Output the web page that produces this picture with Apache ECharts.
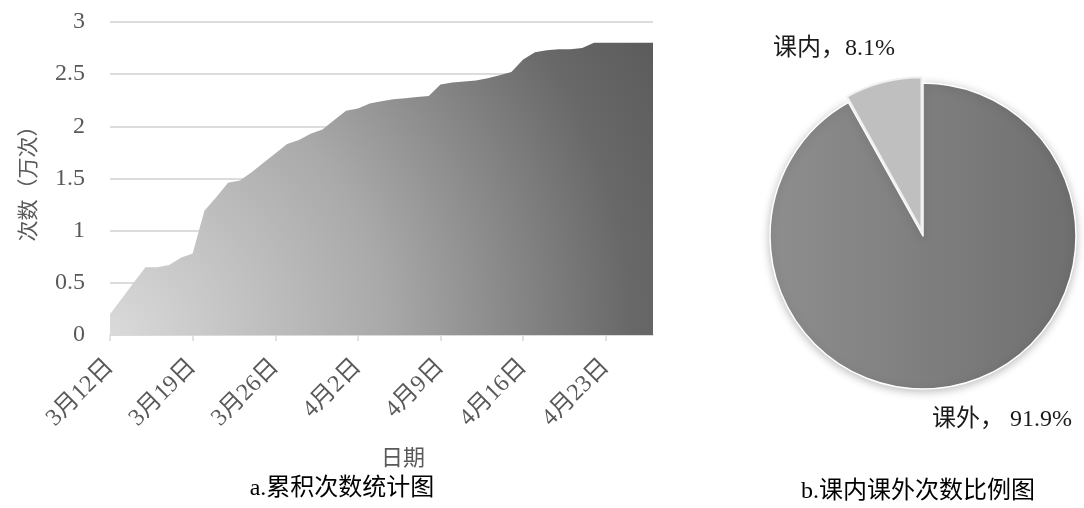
<!DOCTYPE html>
<html><head><meta charset="utf-8">
<script src="https://cdn.jsdelivr.net/npm/echarts@6/dist/echarts.min.js"></script>
<style>html,body{margin:0;padding:0;background:#fff}#c{width:1084px;height:508px}</style>
</head><body><div id="c"></div>
<script>
const dates = ['3月12日','3月13日','3月14日','3月15日','3月16日','3月17日','3月18日','3月19日','3月20日','3月21日',
  '3月22日','3月23日','3月24日','3月25日','3月26日','3月27日','3月28日','3月29日','3月30日','3月31日',
  '4月1日','4月2日','4月3日','4月4日','4月5日','4月6日','4月7日','4月8日','4月9日','4月10日',
  '4月11日','4月12日','4月13日','4月14日','4月15日','4月16日','4月17日','4月18日','4月19日','4月20日',
  '4月21日','4月22日','4月23日','4月24日','4月25日','4月26日','4月27日'];
const cumulative = [0.20,0.35,0.50,0.65,0.65,0.67,0.74,0.78,1.19,1.32,
  1.46,1.48,1.56,1.65,1.74,1.83,1.87,1.93,1.97,2.06,
  2.15,2.17,2.22,2.24,2.26,2.27,2.28,2.29,2.40,2.42,
  2.43,2.44,2.46,2.49,2.52,2.64,2.71,2.73,2.74,2.74,
  2.75,2.80,2.80,2.80,2.80,2.80,2.80];
const pieNames = ['课外','课内'];
const pieValues = [91.9, 8.1];
const yAxisName = '次数（万次）';
const xAxisName = '日期';
const titleA = 'a.累积次数统计图';
const titleB = 'b.课内课外次数比例图';

const serif = '"Liberation Serif","Times New Roman","Noto Sans CJK SC",serif';
const sans = '"Noto Sans CJK SC",sans-serif';
const chart = echarts.init(document.getElementById('c'));
chart.setOption({
  animation: false,
  backgroundColor: '#fff',
  grid: {left: 110, right: 431, top: 22, bottom: 173, containLabel: false},
  xAxis: {
    type: 'category', data: dates, boundaryGap: false,
    axisLine: {lineStyle: {color: '#d9d9d9', width: 1.5}},
    axisTick: {interval: 6, length: 6, lineStyle: {color: '#d9d9d9', width: 1.5}},
    axisLabel: {interval: 6, rotate: 45, margin: 28, fontFamily: serif, fontSize: 24, color: '#595959'}
  },
  yAxis: {
    type: 'value', min: 0, max: 3, interval: 0.5,
    name: yAxisName, nameLocation: 'middle', nameGap: 72,
    nameTextStyle: {fontFamily: sans, fontSize: 21, color: '#595959'},
    axisLine: {show: false}, axisTick: {show: false},
    axisLabel: {margin: 25, fontFamily: serif, fontSize: 24, color: '#595959'},
    splitLine: {lineStyle: {color: '#d0d0d0', width: 1.5}}
  },
  series: [{
    type: 'line', data: cumulative, showSymbol: false, symbol: 'none',
    lineStyle: {width: 0},
    areaStyle: {
      opacity: 1,
      color: new echarts.graphic.RadialGradient(0, 1, 2.1, [
        {offset: 0, color: '#dadada'},
        {offset: 0.45, color: '#a9a9a9'},
        {offset: 0.85, color: '#686868'},
        {offset: 1, color: '#5c5c5c'}
      ])
    }
  }, {
    type: 'pie', center: [923, 236], radius: 153,
    startAngle: 90, clockwise: true,
    selectedMode: 'single', selectedOffset: 6,
    data: pieNames.map((n, i) => ({
      name: n, value: pieValues[i], selected: i === 1,
      itemStyle: i === 0 ? {
        color: new echarts.graphic.LinearGradient(0, 0, 1, 0, [
          {offset: 0, color: '#8e8e8e'}, {offset: 1, color: '#6f6f6f'}
        ]),
        borderColor: '#fff', borderWidth: 1.5,
        shadowBlur: 8, shadowColor: 'rgba(0,0,0,0.25)', shadowOffsetY: 2
      } : {color: '#bfbfbf', borderColor: '#f0f0f0', borderWidth: 2}
    })),
    select: {itemStyle: {color: '#bfbfbf'}},
    emphasis: {disabled: true},
    label: {show: false},
    labelLine: {show: false}
  }],
  graphic: [
    {type: 'text', x: 403, y: 457, style: {text: xAxisName, font: '22px ' + sans, fill: '#595959', align: 'center', verticalAlign: 'middle'}},
    {type: 'text', x: 342, y: 489, style: {text: titleA, font: '24px ' + serif, fill: '#000', align: 'center', verticalAlign: 'middle'}},
    {type: 'text', x: 918, y: 492, style: {text: titleB, font: '24px ' + serif, fill: '#000', align: 'center', verticalAlign: 'middle'}},
    {type: 'text', x: 773, y: 49, style: {text: pieNames[1] + '，' + pieValues[1] + '%', font: '24px ' + serif, fill: '#1a1a1a', align: 'left', verticalAlign: 'middle'}},
    {type: 'text', x: 932, y: 420, style: {text: pieNames[0] + '， ' + pieValues[0] + '%', font: '24px ' + serif, fill: '#1a1a1a', align: 'left', verticalAlign: 'middle'}}
  ]
});
</script></body></html>
